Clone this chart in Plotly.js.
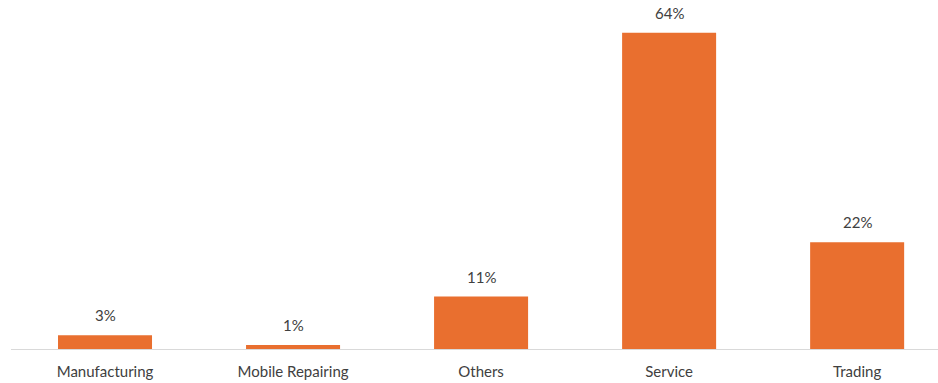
<!DOCTYPE html>
<html>
<head>
<meta charset="utf-8">
<script src="https://cdn.plot.ly/plotly-3.0.1.min.js"></script>
<style>html,body{margin:0;padding:0;background:#fff;}#chart{width:938px;height:383px;}</style>
</head>
<body>
<div id="chart"></div>
<script>
const categories = ["Manufacturing", "Mobile Repairing", "Others", "Service", "Trading"];
const shares = [2.8, 0.8, 10.6, 64, 21.6];

const FONT = "Lato, 'Open Sans', sans-serif";

const trace = {
  type: "bar",
  x: categories,
  y: shares,
  width: 0.5,
  marker: {color: "#E96F2F"},
  hoverinfo: "skip"
};

const annotations = categories.map((c, i) => ({
  x: c, y: shares[i], xref: "x", yref: "y",
  text: Math.round(shares[i]) + "%",
  showarrow: false, yanchor: "bottom", yshift: 9,
  font: {family: FONT, size: 15, color: "#404040"}
}));

const layout = {
  width: 938, height: 383,
  margin: {l: 11, r: 0, t: 5, b: 34},
  paper_bgcolor: "#fff", plot_bgcolor: "#fff",
  showlegend: false,
  annotations: annotations,
  xaxis: {
    range: [-0.5, 4.43],
    showline: true, linecolor: "#D9D9D9", linewidth: 1,
    showgrid: false, zeroline: false, ticks: "",
    ticklabelstandoff: 9,
    tickfont: {family: FONT, size: 15, color: "#404040"}
  },
  yaxis: {
    range: [0, 69.6], visible: false, showgrid: false, zeroline: false
  }
};

Plotly.newPlot("chart", [trace], layout, {displayModeBar: false, staticPlot: true});
</script>
</body>
</html>
